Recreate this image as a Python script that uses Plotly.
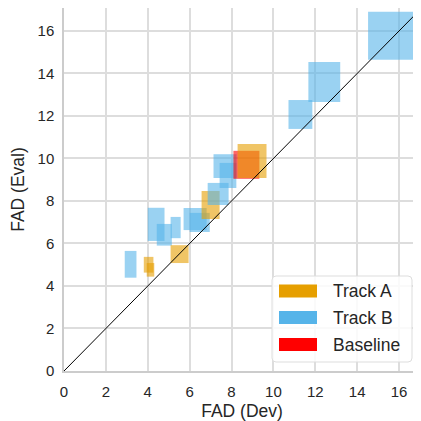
import plotly.graph_objects as go

# ---- data: mean +/- std of FAD on dev and eval sets ----
track_a_dev_mean = [4.04, 4.13, 5.52, 7.00, 8.98]
track_a_dev_std = [0.23, 0.18, 0.43, 0.43, 0.69]
track_a_eval_mean = [5.00, 4.76, 5.50, 7.81, 9.88]
track_a_eval_std = [0.37, 0.32, 0.42, 0.66, 0.80]

track_b_dev_mean = [3.18, 4.40, 4.79, 5.33, 6.26, 6.48, 7.36, 7.69, 7.83, 11.29, 12.43, 15.67]
track_b_dev_std = [0.28, 0.40, 0.36, 0.24, 0.55, 0.48, 0.50, 0.55, 0.40, 0.57, 0.76, 1.15]
track_b_eval_mean = [5.02, 6.90, 6.41, 6.75, 7.15, 6.99, 8.33, 9.64, 9.20, 12.07, 13.60, 15.77]
track_b_eval_std = [0.63, 0.78, 0.51, 0.50, 0.52, 0.45, 0.52, 0.56, 0.59, 0.68, 0.94, 1.13]

baseline_dev_mean = [8.71]
baseline_dev_std = [0.62]
baseline_eval_mean = [9.70]
baseline_eval_std = [0.66]

series_names = ["Track A", "Track B", "Baseline"]
series_colors = ["#E69F00", "#56B4E9", "#FF0000"]
series_fill = ["rgba(230,159,0,0.6)", "rgba(86,180,233,0.6)", "rgba(255,0,0,0.6)"]

axis_max = 17
tick_vals = list(range(0, 17, 2))

FONT = "Liberation Sans, Arial, sans-serif"
TXT = "#262626"

# the page body adds an 8px margin, so the figure is 413px and offsets are shifted
OFF = 8
W, H = 413, 413
ML, MR, MT, MB = 56, 1, 0, 50
PW, PH = W - ML - MR, H - MT - MB


def px_to_paper(px, py):
    # px, py are positions in the 421x421 screenshot
    return (px - OFF - ML) / PW, (H - MB - (py - OFF)) / PH


series = [
    (track_a_dev_mean, track_a_dev_std, track_a_eval_mean, track_a_eval_std),
    (track_b_dev_mean, track_b_dev_std, track_b_eval_mean, track_b_eval_std),
    (baseline_dev_mean, baseline_dev_std, baseline_eval_mean, baseline_eval_std),
]

rects = []
for si, (dm, ds, em, es) in enumerate(series):
    for i in range(len(dm)):
        rects.append((dm[i], ds[i], em[i], es[i], si))
rects.sort(key=lambda r: r[0])

fig = go.Figure()
for dm, ds, em, es, si in rects:
    x0, x1 = dm - ds, dm + ds
    y0, y1 = em - es, em + es
    fig.add_trace(go.Scatter(
        x=[x0, x1, x1, x0, x0], y=[y0, y0, y1, y1, y0],
        mode="lines", fill="toself", fillcolor=series_fill[si],
        line=dict(width=0), showlegend=False, hoverinfo="skip",
        name=series_names[si],
    ))

# identity line
fig.add_trace(go.Scatter(x=[0, axis_max], y=[0, axis_max], mode="lines",
                         line=dict(color="black", width=1), showlegend=False,
                         hoverinfo="skip"))

# ---- legend box (drawn manually to get matplotlib-like wide patches) ----
shapes = []
bx0, by0 = px_to_paper(272, 362)
bx1, by1 = px_to_paper(412, 276)
rx, ry = 4 / PW, 4 / PH
path = (f"M{bx0+rx},{by0} L{bx1-rx},{by0} Q{bx1},{by0} {bx1},{by0+ry} "
        f"L{bx1},{by1-ry} Q{bx1},{by1} {bx1-rx},{by1} L{bx0+rx},{by1} "
        f"Q{bx0},{by1} {bx0},{by1-ry} L{bx0},{by0+ry} Q{bx0},{by0} {bx0+rx},{by0} Z")
shapes.append(dict(type="path", xref="paper", yref="paper", path=path,
                   fillcolor="rgba(255,255,255,0.85)", line=dict(color="#dddddd", width=1),
                   layer="above"))
annotations = []
row_centers = [291, 317.5, 344.5]
for si, name in enumerate(series_names):
    cy = row_centers[si]
    px0, py0 = px_to_paper(279, cy + 6.5)
    px1, py1 = px_to_paper(317, cy - 6.5)
    shapes.append(dict(type="rect", xref="paper", yref="paper", x0=px0, x1=px1,
                       y0=py0, y1=py1, fillcolor=series_colors[si], line=dict(width=0),
                       layer="above"))
    tx, ty = px_to_paper(331, cy)
    annotations.append(dict(text=name, xref="paper", yref="paper", x=tx, y=ty,
                            xanchor="left", yanchor="middle", showarrow=False,
                            font=dict(family=FONT, size=17.5, color=TXT)))

axis_common = dict(
    showgrid=True, gridcolor="#dddddd", gridwidth=1.5, automargin=False,
    zeroline=False, showline=True, linecolor="#cccccc", linewidth=1.5, mirror=True,
    tickvals=tick_vals, ticks="outside", tickcolor="rgba(0,0,0,0)",
    tickfont=dict(family=FONT, size=15, color=TXT),
)

fig.update_layout(
    width=W, height=H,
    margin=dict(l=ML, r=MR, t=MT, b=MB),
    paper_bgcolor="white", plot_bgcolor="white",
    font=dict(family=FONT, color=TXT),
    showlegend=False,
    xaxis=dict(range=[0, axis_max], ticklen=6,
               title=dict(text="FAD (Dev)", font=dict(family=FONT, size=17.5, color=TXT), standoff=8),
               **axis_common),
    yaxis=dict(range=[0, 17.08], ticklen=5,
               title=dict(text="FAD (Eval)", font=dict(family=FONT, size=17.5, color=TXT), standoff=9),
               **axis_common),
    shapes=shapes,
    annotations=annotations,
)

fig.write_html("out.html")
